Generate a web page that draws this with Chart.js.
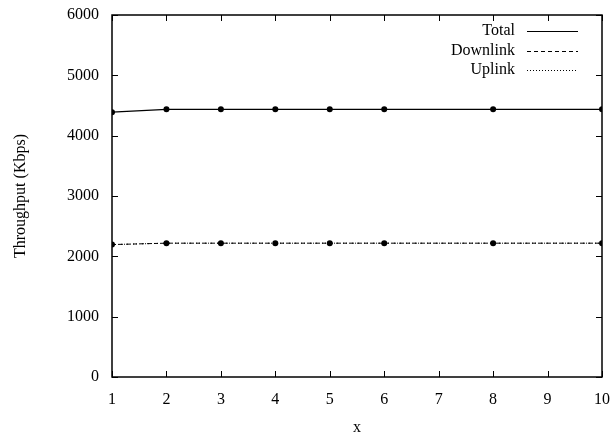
<!DOCTYPE html>
<html>
<head>
<meta charset="utf-8">
<script src="https://cdn.jsdelivr.net/npm/chart.js@4"></script>
<style>
  html, body { margin: 0; padding: 0; background: #fff; }
  #wrap { width: 613px; height: 436px; }
</style>
</head>
<body>
<div id="wrap"><canvas id="chart" width="613" height="436"></canvas></div>
<script>
// x positions that were measured
const xValues = [1, 2, 3, 4, 5, 6, 8, 10];
// throughput in Kbps
const totalKbps = [4390, 4437, 4437, 4437, 4437, 4437, 4437, 4437];
const downlinkKbps = [2195, 2218, 2218, 2218, 2218, 2218, 2218, 2218];
const uplinkKbps = [2195, 2218, 2218, 2218, 2218, 2218, 2218, 2218];
const seriesNames = ["Total", "Downlink", "Uplink"];
const yTicks = [0, 1000, 2000, 3000, 4000, 5000, 6000];
const xTicks = [1, 2, 3, 4, 5, 6, 7, 8, 9, 10];

const serif = "'Liberation Serif', 'DejaVu Serif', serif";

const toPoints = (ys) => xValues.map((x, i) => ({ x: x, y: ys[i] }));

//draws the gnuplot style box, inward ticks and the legend
const gnuplotFrame = {
  id: "gnuplotFrame",
  afterDraw(chart) {
    const ctx = chart.ctx;
    const area = chart.chartArea;
    const xs = chart.scales.x;
    const ys = chart.scales.y;
    const tl = 6;
    ctx.save();
    ctx.strokeStyle = "#000";
    ctx.lineWidth = 1;
    ctx.setLineDash([]);
    ctx.beginPath();
    yTicks.forEach((v) => {
      const py = Math.round(ys.getPixelForValue(v)) + 0.5;
      ctx.moveTo(area.left, py);
      ctx.lineTo(area.left + tl, py);
      ctx.moveTo(area.right, py);
      ctx.lineTo(area.right - tl, py);
    });
    xTicks.forEach((v) => {
      const px = Math.round(xs.getPixelForValue(v)) + 0.5;
      ctx.moveTo(px, area.bottom);
      ctx.lineTo(px, area.bottom - tl);
      ctx.moveTo(px, area.top);
      ctx.lineTo(px, area.top + tl);
    });
    ctx.stroke();
    ctx.lineWidth = 1.5;
    ctx.strokeRect(area.left, area.top, area.right - area.left, area.bottom - area.top);

    //legend
    ctx.font = "16px " + serif;
    ctx.fillStyle = "#000";
    ctx.textAlign = "right";
    ctx.textBaseline = "middle";
    const rows = [31, 51, 70];
    chart.data.datasets.forEach((ds, i) => {
      ctx.fillText(seriesNames[i], 515, rows[i]);
      ctx.beginPath();
      ctx.lineWidth = 1;
      ctx.setLineDash(ds.borderDash || []);
      ctx.moveTo(527, rows[i] + 0.5);
      ctx.lineTo(578, rows[i] + 0.5);
      ctx.stroke();
    });
    ctx.restore();
  },
};

new Chart(document.getElementById("chart"), {
  type: "line",
  plugins: [gnuplotFrame],
  data: {
    datasets: [
      {
        label: seriesNames[0],
        data: toPoints(totalKbps),
        borderColor: "#000",
        backgroundColor: "#000",
        borderWidth: 1.3,
        pointRadius: 3,
        pointBorderWidth: 0,
      },
      {
        label: seriesNames[1],
        data: toPoints(downlinkKbps),
        borderColor: "#000",
        backgroundColor: "#000",
        borderWidth: 1,
        borderDash: [4, 3],
        pointRadius: 3,
        pointBorderWidth: 0,
      },
      {
        label: seriesNames[2],
        data: toPoints(uplinkKbps),
        borderColor: "#000",
        backgroundColor: "#000",
        borderWidth: 1,
        borderDash: [1, 2],
        pointRadius: 0,
      },
    ],
  },
  options: {
    responsive: false,
    animation: false,
    layout: { padding: { left: 13, right: 11, top: 15, bottom: 0 } },
    plugins: {
      legend: { display: false },
      tooltip: { enabled: false },
    },
    scales: {
      x: {
        type: "linear",
        min: 1,
        max: 10,
        afterFit: (scale) => {
          scale.height = 59;
          scale.paddingLeft = 0;
          scale.paddingRight = 0;
        },
        afterBuildTicks: (scale) => { scale.ticks = xTicks.map((v) => ({ value: v })); },
        grid: { display: false, drawTicks: false },
        border: { display: false },
        ticks: {
          color: "#000",
          padding: 13,
          maxRotation: 0,
          callback: (v) => String(v),
          font: { family: serif, size: 16 },
        },
        title: {
          display: true,
          text: "x",
          color: "#000",
          padding: { top: 0, bottom: 0 },
          font: { family: serif, size: 16, lineHeight: 1 },
        },
      },
      y: {
        min: 0,
        max: 6000,
        afterFit: (scale) => {
          scale.width = 99;
          scale.paddingTop = 0;
          scale.paddingBottom = 0;
        },
        afterBuildTicks: (scale) => { scale.ticks = yTicks.map((v) => ({ value: v })); },
        grid: { display: false, drawTicks: false },
        border: { display: false },
        ticks: {
          color: "#000",
          padding: 13,
          callback: (v) => String(v),
          font: { family: serif, size: 16 },
        },
        title: {
          display: true,
          text: "Throughput (Kbps)",
          color: "#000",
          padding: { top: 0, bottom: 0 },
          font: { family: serif, size: 16, lineHeight: 1 },
        },
      },
    },
  },
});
</script>
</body>
</html>
